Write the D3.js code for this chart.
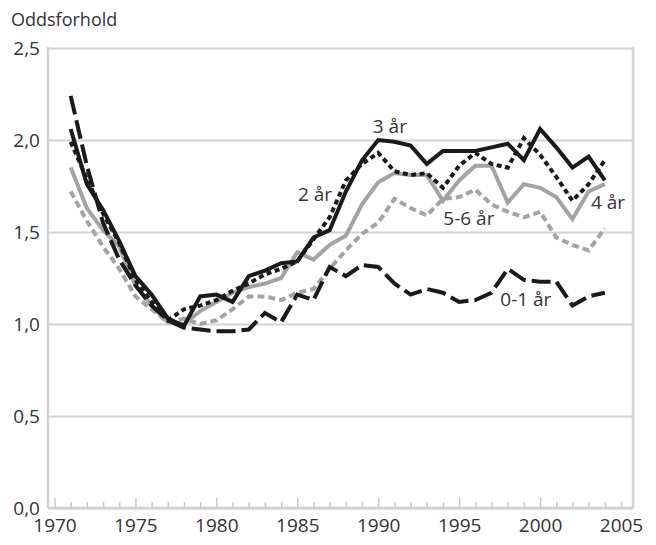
<!DOCTYPE html>
<html>
<head>
<meta charset="utf-8">
<script src="https://cdn.jsdelivr.net/npm/d3@7"></script>
<style>
  body { margin: 0; background: #fff; }
  text { font-family: "Open Sans", sans-serif; fill: #333; }
</style>
</head>
<body>
<div id="chart"></div>
<script>
const w = 656, h = 545;

// data
const years = d3.range(1971, 2005);
const age01 = [2.24,1.86,1.55,1.35,1.21,1.10,1.02,0.98,0.97,0.96,0.96,0.97,1.06,1.01,1.16,1.13,1.31,1.26,1.32,1.31,1.22,1.16,1.19,1.17,1.12,1.13,1.17,1.30,1.24,1.23,1.23,1.10,1.15,1.17];
const age2 = [1.99,1.79,1.60,1.44,1.24,1.12,1.02,1.08,1.10,1.13,1.18,1.22,1.27,1.30,1.34,1.46,1.58,1.78,1.87,1.93,1.83,1.81,1.82,1.74,1.86,1.93,1.87,1.85,2.01,1.92,1.80,1.67,1.76,1.89];
const age3 = [2.06,1.76,1.62,1.45,1.26,1.16,1.03,0.99,1.15,1.16,1.12,1.26,1.29,1.33,1.34,1.47,1.51,1.72,1.89,2.00,1.99,1.97,1.87,1.94,1.94,1.94,1.96,1.98,1.89,2.06,1.96,1.85,1.91,1.78];
const age4 = [1.85,1.63,1.51,1.42,1.21,1.10,1.01,1.00,1.07,1.12,1.17,1.20,1.22,1.25,1.39,1.35,1.43,1.48,1.65,1.77,1.82,1.81,1.81,1.67,1.78,1.86,1.86,1.66,1.76,1.74,1.69,1.57,1.72,1.76];
const age56 = [1.72,1.56,1.42,1.30,1.15,1.08,1.01,1.03,1.00,1.02,1.08,1.15,1.15,1.13,1.17,1.19,1.30,1.40,1.49,1.55,1.68,1.63,1.59,1.68,1.69,1.73,1.65,1.61,1.58,1.61,1.47,1.43,1.40,1.52];

const yTicks = [0, 0.5, 1, 1.5, 2, 2.5];
const xLabels = [1970, 1975, 1980, 1985, 1990, 1995, 2000, 2005];

// label anchors in data units (year, value)
const labelNames = ["3 år", "2 år", "4 år", "5-6 år", "0-1 år"];
const labelYears = [1990.72, 1986.1, 2004.2, 1995.6, 1999.12];
const labelVals = [2.04, 1.67, 1.625, 1.54, 1.10];

const series = [
  {name: "5-6 år", values: age56, color: "#a3a3a3", dash: "7,4"},
  {name: "4 år", values: age4, color: "#a3a3a3", dash: null},
  {name: "0-1 år", values: age01, color: "#1a1a1a", dash: "19,6"},
  {name: "2 år", values: age2, color: "#1a1a1a", dash: "5,3.5"},
  {name: "3 år", values: age3, color: "#1a1a1a", dash: null}
];

const chart = d3.select("#chart")
  .append("svg")
  .attr("width", w)
  .attr("height", h);

const padLeft = 48, padRight = 633, padTop = 48, padBottom = 508;

const xScale = d3.scaleLinear()
  .domain([1970, 2005])
  .range([54.5, 621]);

const yScale = d3.scaleLinear()
  .domain([0, 2.5])
  .range([padBottom, padTop]);

const fmt = d3.formatLocale({decimal: ",", thousands: " ", grouping: [3], currency: ["", ""]}).format(".1f");

// gridlines + y labels
const yAxis = d3.axisLeft(yScale)
  .tickValues(yTicks)
  .tickSize(-(padRight - padLeft))
  .tickPadding(8)
  .tickFormat(fmt);

const gy = chart.append("g")
  .attr("transform", "translate(" + padLeft + ",0)")
  .call(yAxis);
gy.select(".domain").remove();
gy.selectAll(".tick line")
  .attr("stroke", "#d2d2d2")
  .attr("stroke-width", 2);
gy.selectAll(".tick text")
  .style("font-size", "19px")
  .attr("fill", "#333");

// frame: left axis, right border, baseline
chart.append("line")
  .attr("x1", padLeft).attr("x2", padLeft)
  .attr("y1", padTop - 1).attr("y2", padBottom)
  .attr("stroke", "#d2d2d2").attr("stroke-width", 2.5);
chart.append("line")
  .attr("x1", padRight).attr("x2", padRight)
  .attr("y1", padTop - 1).attr("y2", padBottom)
  .attr("stroke", "#d2d2d2").attr("stroke-width", 2.5);
chart.append("line")
  .attr("x1", padLeft).attr("x2", padRight)
  .attr("y1", padBottom).attr("y2", padBottom)
  .attr("stroke", "#d2d2d2").attr("stroke-width", 2.5);

// year ticks, pointing up into the plot
const minorAxis = d3.axisBottom(xScale)
  .tickValues(d3.range(1970, 2006))
  .tickSize(-6)
  .tickFormat("");
const gMinor = chart.append("g")
  .attr("transform", "translate(0," + padBottom + ")")
  .call(minorAxis);
gMinor.select(".domain").remove();
gMinor.selectAll(".tick line")
  .attr("stroke", "#c8c8c8")
  .attr("stroke-width", 1.5)
  .attr("y2", d => (d % 5 === 0 && d < 2005) ? -10 : -6);

const xAxis = d3.axisBottom(xScale)
  .tickValues(xLabels)
  .tickSize(0)
  .tickPadding(11)
  .tickFormat(d3.format("d"));
const gx = chart.append("g")
  .attr("transform", "translate(0," + padBottom + ")")
  .call(xAxis);
gx.select(".domain").remove();
gx.selectAll(".tick text")
  .style("font-size", "19px")
  .attr("fill", "#333");

// series
const line = d3.line()
  .x((d, i) => xScale(years[i]))
  .y(d => yScale(d));

chart.selectAll(".series")
  .data(series)
  .enter()
  .append("path")
  .attr("class", "series")
  .attr("fill", "none")
  .attr("stroke", d => d.color)
  .attr("stroke-width", 4)
  .attr("stroke-linejoin", "miter")
  .attr("stroke-dasharray", d => d.dash)
  .attr("d", d => line(d.values));

// direct labels
chart.selectAll(".lbl")
  .data(labelNames)
  .enter()
  .append("text")
  .attr("class", "lbl")
  .attr("x", (d, i) => xScale(labelYears[i]))
  .attr("y", (d, i) => yScale(labelVals[i]))
  .attr("text-anchor", "middle")
  .style("font-size", "19px")
  .text(d => d);

// y title
chart.append("text")
  .attr("x", 11)
  .attr("y", 26)
  .style("font-size", "18px")
  .text("Oddsforhold");
</script>
</body>
</html>
